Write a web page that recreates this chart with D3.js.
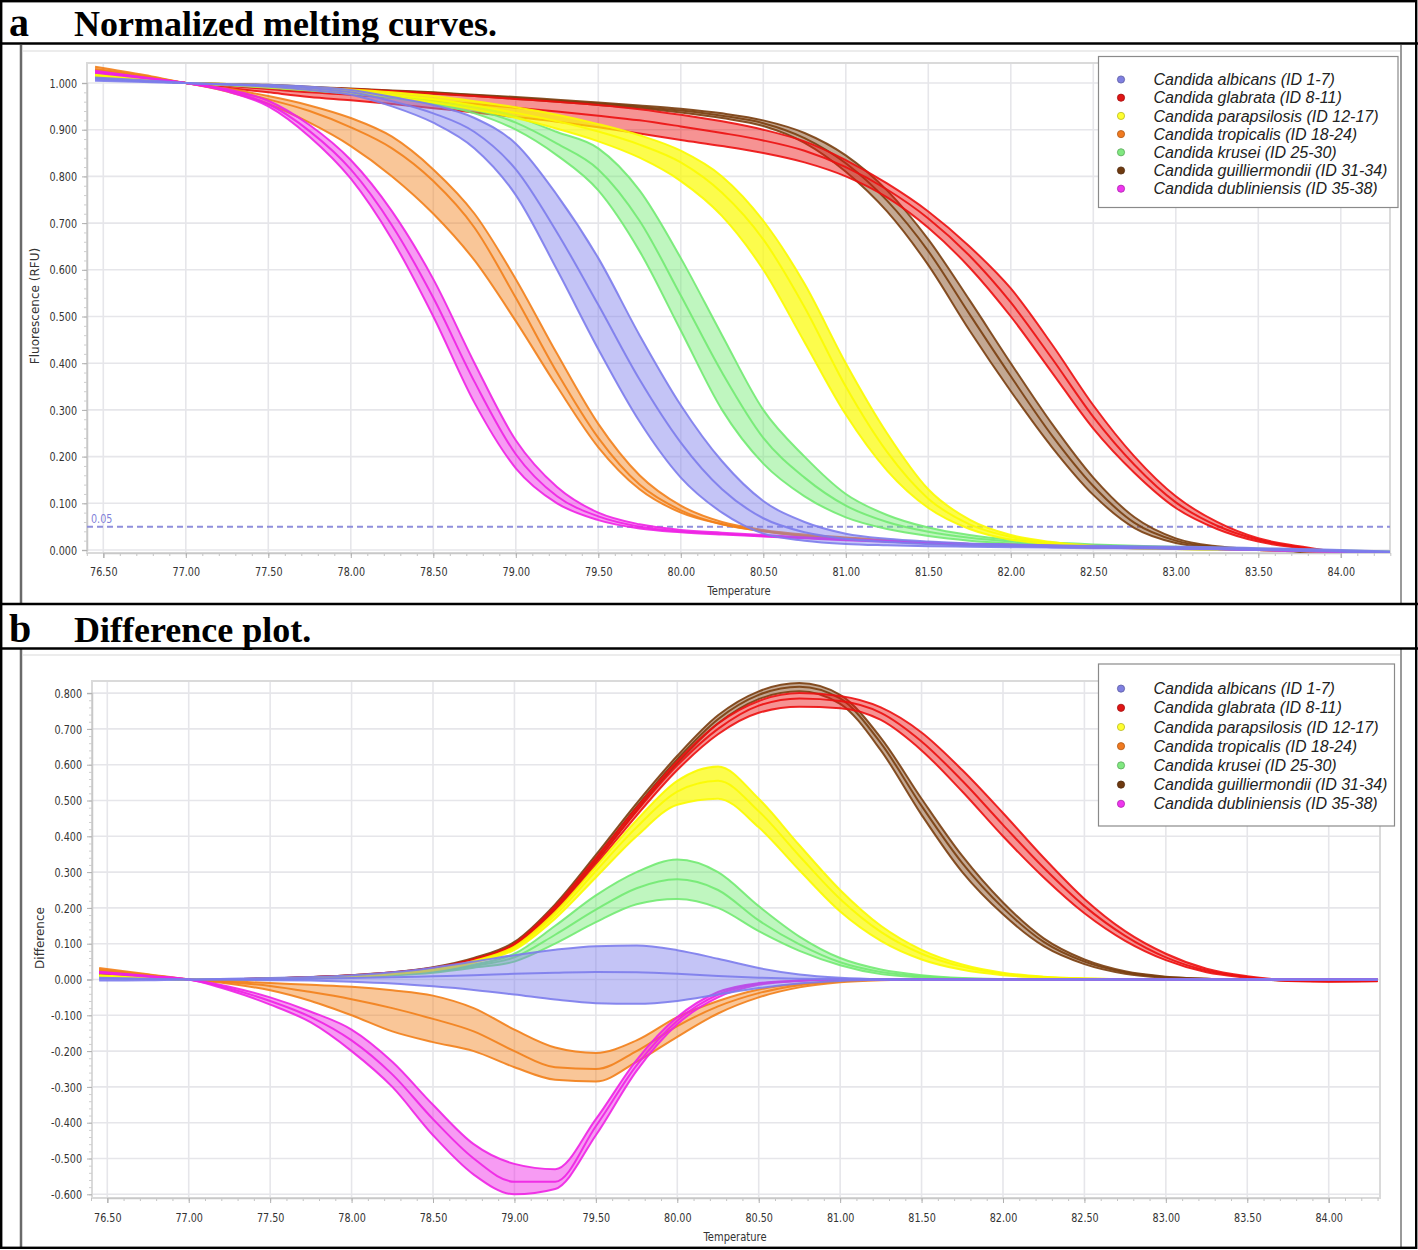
<!DOCTYPE html>
<html>
<head>
<meta charset="utf-8">
<script src="https://cdn.jsdelivr.net/npm/d3@7"></script>
<style>
    body { margin: 0; background: #fff; }
    svg { display: block; }
</style>
</head>
<body>
<svg id="chart" width="1418" height="1250"></svg>
<script>
// temperature grid the curves were read at (°C)
const temps = [76.45, 76.75, 77.0, 77.25, 77.5, 77.75, 78.0, 78.25, 78.5, 78.75, 79.0, 79.25, 79.5, 79.75, 80.0, 80.25,
    80.5, 80.75, 81.0, 81.25, 81.5, 81.75, 82.0, 82.25, 82.5, 82.75, 83.0, 83.25, 83.5, 83.75, 84.0, 84.3]

const species = ['Candida albicans (ID 1-7)', 'Candida glabrata (ID 8-11)', 'Candida parapsilosis (ID 12-17)',
    'Candida tropicalis (ID 18-24)', 'Candida krusei (ID 25-30)', 'Candida guilliermondii (ID 31-34)',
    'Candida dubliniensis (ID 35-38)']
const colors = ['#7c7cec', '#ec1010', '#fbfb00', '#f2801a', '#72ea72', '#7a3e10', '#ee22e4']
const dotColors = ['#7f7fe0', '#e01515', '#ffff30', '#f07a20', '#80e880', '#6e3a10', '#ee35ee']

const xTicks = [76.5, 77.0, 77.5, 78.0, 78.5, 79.0, 79.5, 80.0, 80.5, 81.0, 81.5, 82.0, 82.5, 83.0, 83.5, 84.0]
const meltTicks = [0.0, 0.1, 0.2, 0.3, 0.4, 0.5, 0.6, 0.7, 0.8, 0.9, 1.0]
const diffTicks = [-0.6, -0.5, -0.4, -0.3, -0.2, -0.1, 0.0, 0.1, 0.2, 0.3, 0.4, 0.5, 0.6, 0.7, 0.8]
const threshold = 0.05

// a) normalized melting curves: lower edge, middle and upper edge of each replicate bundle
const meltAlbicansLo = [1.005, 1.002, 1.000, 0.996, 0.992, 0.985, 0.975, 0.950, 0.915, 0.860, 0.760, 0.600, 0.430, 0.275, 0.155, 0.080, 0.035, 0.020, 0.013, 0.010, 0.008, 0.007, 0.006, 0.005, 0.004, 0.003, 0.002, 0.001, 0.000, -0.002, -0.004, -0.006]
const meltAlbicansMid = [1.008, 1.004, 1.000, 0.997, 0.994, 0.989, 0.980, 0.961, 0.935, 0.895, 0.815, 0.680, 0.525, 0.365, 0.230, 0.130, 0.068, 0.038, 0.024, 0.017, 0.013, 0.010, 0.009, 0.008, 0.007, 0.006, 0.005, 0.003, 0.002, 0.000, -0.002, -0.004]
const meltAlbicansHi = [1.012, 1.006, 1.000, 0.998, 0.996, 0.992, 0.985, 0.970, 0.953, 0.925, 0.870, 0.760, 0.625, 0.460, 0.310, 0.190, 0.105, 0.060, 0.035, 0.024, 0.018, 0.014, 0.012, 0.010, 0.009, 0.008, 0.007, 0.006, 0.004, 0.002, 0.000, -0.003]

const meltGlabrataLo = [1.020, 1.010, 1.000, 0.990, 0.980, 0.970, 0.963, 0.955, 0.946, 0.937, 0.927, 0.917, 0.905, 0.892, 0.878, 0.865, 0.850, 0.830, 0.800, 0.755, 0.690, 0.605, 0.500, 0.380, 0.260, 0.165, 0.090, 0.045, 0.018, 0.004, -0.006, -0.010]
const meltGlabrataMid = [1.017, 1.008, 1.000, 0.994, 0.987, 0.980, 0.975, 0.969, 0.962, 0.955, 0.947, 0.939, 0.930, 0.920, 0.907, 0.893, 0.877, 0.855, 0.820, 0.772, 0.710, 0.630, 0.530, 0.410, 0.285, 0.182, 0.102, 0.052, 0.022, 0.006, -0.005, -0.010]
const meltGlabrataHi = [1.015, 1.007, 1.000, 0.997, 0.993, 0.990, 0.987, 0.983, 0.978, 0.972, 0.966, 0.960, 0.953, 0.944, 0.932, 0.918, 0.900, 0.875, 0.835, 0.785, 0.725, 0.650, 0.560, 0.440, 0.310, 0.200, 0.115, 0.060, 0.025, 0.008, -0.005, -0.010]

const meltParapsilosisLo = [1.015, 1.007, 1.000, 0.996, 0.991, 0.985, 0.978, 0.970, 0.958, 0.943, 0.925, 0.902, 0.875, 0.840, 0.790, 0.715, 0.600, 0.445, 0.290, 0.170, 0.090, 0.045, 0.022, 0.012, 0.007, 0.004, 0.002, 0.001, 0.000, -0.002, -0.004, -0.006]
const meltParapsilosisMid = [1.016, 1.008, 1.000, 0.997, 0.993, 0.988, 0.982, 0.975, 0.965, 0.952, 0.936, 0.918, 0.896, 0.868, 0.830, 0.765, 0.665, 0.520, 0.350, 0.210, 0.110, 0.055, 0.028, 0.015, 0.008, 0.004, 0.002, 0.001, 0.000, -0.002, -0.004, -0.006]
const meltParapsilosisHi = [1.018, 1.009, 1.000, 0.998, 0.995, 0.991, 0.986, 0.980, 0.972, 0.961, 0.948, 0.932, 0.912, 0.888, 0.855, 0.800, 0.705, 0.570, 0.400, 0.250, 0.130, 0.065, 0.032, 0.017, 0.009, 0.005, 0.003, 0.001, 0.000, -0.002, -0.004, -0.006]

const meltTropicalisLo = [1.028, 1.013, 1.000, 0.982, 0.955, 0.915, 0.865, 0.800, 0.720, 0.620, 0.490, 0.350, 0.220, 0.130, 0.080, 0.055, 0.040, 0.030, 0.024, 0.018, 0.014, 0.011, 0.009, 0.007, 0.005, 0.004, 0.003, 0.002, 0.000, -0.002, -0.004, -0.006]
const meltTropicalisMid = [1.030, 1.015, 1.000, 0.985, 0.965, 0.940, 0.905, 0.860, 0.790, 0.690, 0.540, 0.380, 0.240, 0.140, 0.085, 0.055, 0.040, 0.030, 0.025, 0.020, 0.015, 0.012, 0.010, 0.008, 0.006, 0.005, 0.004, 0.003, 0.001, -0.001, -0.003, -0.005]
const meltTropicalisHi = [1.035, 1.017, 1.000, 0.988, 0.972, 0.952, 0.925, 0.885, 0.815, 0.720, 0.580, 0.420, 0.270, 0.160, 0.095, 0.060, 0.043, 0.033, 0.027, 0.021, 0.016, 0.013, 0.011, 0.009, 0.007, 0.006, 0.005, 0.003, 0.001, -0.001, -0.003, -0.005]

const meltKruseiLo = [1.010, 1.004, 1.000, 0.995, 0.990, 0.984, 0.977, 0.968, 0.955, 0.935, 0.900, 0.845, 0.770, 0.640, 0.470, 0.300, 0.185, 0.115, 0.070, 0.045, 0.030, 0.020, 0.014, 0.010, 0.007, 0.005, 0.004, 0.002, 0.000, -0.002, -0.004, -0.006]
const meltKruseiMid = [1.014, 1.006, 1.000, 0.996, 0.992, 0.986, 0.980, 0.972, 0.960, 0.943, 0.915, 0.870, 0.815, 0.705, 0.545, 0.380, 0.240, 0.155, 0.095, 0.060, 0.039, 0.026, 0.018, 0.013, 0.010, 0.007, 0.005, 0.003, 0.001, -0.001, -0.003, -0.005]
const meltKruseiHi = [1.018, 1.008, 1.000, 0.997, 0.993, 0.988, 0.982, 0.975, 0.965, 0.950, 0.928, 0.895, 0.860, 0.770, 0.625, 0.460, 0.300, 0.200, 0.120, 0.075, 0.048, 0.032, 0.022, 0.016, 0.012, 0.009, 0.007, 0.005, 0.003, 0.001, -0.001, -0.003]

const meltGuilliermondiiLo = [1.015, 1.007, 1.000, 0.997, 0.994, 0.990, 0.986, 0.982, 0.977, 0.972, 0.966, 0.960, 0.953, 0.946, 0.937, 0.925, 0.908, 0.872, 0.810, 0.725, 0.610, 0.470, 0.340, 0.220, 0.118, 0.047, 0.015, 0.004, 0.000, -0.003, -0.005, -0.008]
const meltGuilliermondiiMid = [1.016, 1.008, 1.000, 0.998, 0.995, 0.991, 0.987, 0.983, 0.979, 0.974, 0.968, 0.962, 0.956, 0.949, 0.941, 0.930, 0.914, 0.882, 0.828, 0.748, 0.640, 0.505, 0.372, 0.245, 0.137, 0.058, 0.020, 0.006, 0.001, -0.003, -0.005, -0.008]
const meltGuilliermondiiHi = [1.017, 1.008, 1.000, 0.998, 0.996, 0.992, 0.988, 0.984, 0.980, 0.975, 0.970, 0.964, 0.958, 0.952, 0.945, 0.935, 0.920, 0.893, 0.845, 0.770, 0.665, 0.535, 0.400, 0.270, 0.155, 0.070, 0.025, 0.008, 0.002, -0.003, -0.005, -0.008]

const meltDubliniensisLo = [1.022, 1.010, 1.000, 0.982, 0.950, 0.885, 0.795, 0.665, 0.500, 0.315, 0.175, 0.100, 0.064, 0.046, 0.038, 0.033, 0.029, 0.025, 0.021, 0.018, 0.015, 0.012, 0.010, 0.008, 0.006, 0.005, 0.004, 0.002, 0.000, -0.002, -0.004, -0.006]
const meltDubliniensisMid = [1.024, 1.011, 1.000, 0.984, 0.955, 0.897, 0.815, 0.695, 0.540, 0.360, 0.205, 0.115, 0.072, 0.050, 0.040, 0.035, 0.030, 0.026, 0.022, 0.019, 0.016, 0.013, 0.010, 0.008, 0.006, 0.005, 0.004, 0.002, 0.000, -0.002, -0.004, -0.006]
const meltDubliniensisHi = [1.026, 1.012, 1.000, 0.987, 0.962, 0.910, 0.835, 0.725, 0.580, 0.400, 0.235, 0.135, 0.080, 0.055, 0.043, 0.037, 0.032, 0.027, 0.023, 0.020, 0.016, 0.013, 0.011, 0.009, 0.007, 0.005, 0.004, 0.002, 0.000, -0.002, -0.004, -0.006]

// b) difference plot
const diffAlbicansLo = [-0.003, -0.002, 0.000, -0.001, -0.002, -0.003, -0.006, -0.011, -0.019, -0.029, -0.042, -0.056, -0.066, -0.068, -0.060, -0.042, -0.024, -0.011, -0.004, -0.001, 0, 0, 0, 0, 0, 0, 0, 0, 0, 0, 0, 0]
const diffAlbicansMid = [0.002, 0.001, 0.000, 0.001, 0.001, 0.002, 0.004, 0.006, 0.009, 0.012, 0.016, 0.019, 0.021, 0.020, 0.016, 0.010, 0.005, 0.002, 0.001, 0.000, 0, 0, 0, 0, 0, 0, 0, 0, 0, 0, 0, 0]
const diffAlbicansHi = [0.005, 0.002, 0.000, 0.002, 0.004, 0.007, 0.012, 0.020, 0.033, 0.050, 0.068, 0.083, 0.093, 0.095, 0.082, 0.058, 0.032, 0.014, 0.005, 0.001, 0, 0, 0, 0, 0, 0, 0, 0, 0, 0, 0, 0]

const diffGlabrataLo = [0.018, 0.008, 0.000, 0.000, 0.002, 0.005, 0.010, 0.017, 0.029, 0.050, 0.090, 0.190, 0.320, 0.458, 0.585, 0.685, 0.745, 0.762, 0.758, 0.725, 0.640, 0.525, 0.400, 0.285, 0.185, 0.108, 0.054, 0.020, 0.005, -0.004, -0.006, -0.005]
const diffGlabrataMid = [0.020, 0.009, 0.000, 0.001, 0.003, 0.006, 0.011, 0.019, 0.031, 0.054, 0.096, 0.198, 0.330, 0.470, 0.598, 0.700, 0.765, 0.785, 0.778, 0.745, 0.665, 0.555, 0.432, 0.312, 0.205, 0.122, 0.062, 0.025, 0.007, -0.003, -0.005, -0.004]
const diffGlabrataHi = [0.022, 0.010, 0.000, 0.001, 0.003, 0.007, 0.012, 0.020, 0.033, 0.057, 0.100, 0.205, 0.340, 0.480, 0.610, 0.715, 0.778, 0.800, 0.792, 0.760, 0.690, 0.585, 0.465, 0.340, 0.225, 0.135, 0.072, 0.030, 0.009, -0.002, -0.005, -0.004]

const diffParapsilosisLo = [0.010, 0.004, 0.000, 0.000, 0.002, 0.004, 0.008, 0.015, 0.025, 0.047, 0.083, 0.170, 0.285, 0.400, 0.488, 0.505, 0.425, 0.305, 0.190, 0.108, 0.056, 0.027, 0.012, 0.005, 0.002, 0.001, 0, 0, 0, 0, 0, 0]
const diffParapsilosisMid = [0.011, 0.005, 0.000, 0.001, 0.002, 0.005, 0.009, 0.016, 0.027, 0.050, 0.088, 0.180, 0.303, 0.425, 0.525, 0.555, 0.470, 0.345, 0.225, 0.133, 0.072, 0.036, 0.016, 0.007, 0.003, 0.001, 0, 0, 0, 0, 0, 0]
const diffParapsilosisHi = [0.012, 0.005, 0.000, 0.001, 0.002, 0.005, 0.010, 0.017, 0.028, 0.052, 0.092, 0.188, 0.315, 0.445, 0.555, 0.595, 0.505, 0.375, 0.250, 0.150, 0.083, 0.042, 0.019, 0.008, 0.003, 0.001, 0, 0, 0, 0, 0, 0]

const diffTropicalisLo = [0.032, 0.015, 0.000, -0.012, -0.030, -0.060, -0.100, -0.145, -0.175, -0.200, -0.245, -0.280, -0.285, -0.230, -0.160, -0.095, -0.050, -0.022, -0.008, -0.002, 0, 0, 0, 0, 0, 0, 0, 0, 0, 0, 0, 0]
const diffTropicalisMid = [0.028, 0.013, 0.000, -0.008, -0.018, -0.035, -0.055, -0.080, -0.110, -0.145, -0.200, -0.245, -0.250, -0.200, -0.130, -0.075, -0.038, -0.016, -0.005, -0.001, 0, 0, 0, 0, 0, 0, 0, 0, 0, 0, 0, 0]
const diffTropicalisHi = [0.025, 0.012, 0.000, -0.005, -0.010, -0.015, -0.020, -0.030, -0.045, -0.080, -0.140, -0.190, -0.205, -0.170, -0.105, -0.060, -0.028, -0.012, -0.004, 0.000, 0, 0, 0, 0, 0, 0, 0, 0, 0, 0, 0, 0]

const diffKruseiLo = [0.008, 0.003, 0.000, 0.000, 0.001, 0.003, 0.006, 0.011, 0.019, 0.033, 0.050, 0.100, 0.160, 0.210, 0.225, 0.200, 0.135, 0.080, 0.040, 0.015, 0.006, 0.002, 0.000, 0, 0, 0, 0, 0, 0, 0, 0, 0]
const diffKruseiMid = [0.009, 0.004, 0.000, 0.001, 0.002, 0.004, 0.007, 0.013, 0.022, 0.038, 0.062, 0.125, 0.195, 0.255, 0.280, 0.250, 0.165, 0.098, 0.048, 0.021, 0.009, 0.003, 0.001, 0, 0, 0, 0, 0, 0, 0, 0, 0]
const diffKruseiHi = [0.010, 0.004, 0.000, 0.001, 0.002, 0.004, 0.008, 0.014, 0.024, 0.042, 0.072, 0.150, 0.235, 0.300, 0.335, 0.300, 0.205, 0.120, 0.060, 0.028, 0.012, 0.004, 0.001, 0, 0, 0, 0, 0, 0, 0, 0, 0]

const diffGuilliermondiiLo = [0.012, 0.005, 0.000, 0.000, 0.002, 0.005, 0.010, 0.018, 0.030, 0.054, 0.096, 0.196, 0.328, 0.472, 0.604, 0.715, 0.783, 0.805, 0.770, 0.640, 0.460, 0.300, 0.182, 0.093, 0.043, 0.016, 0.005, 0.001, 0.000, -0.002, -0.003, -0.003]
const diffGuilliermondiiMid = [0.013, 0.006, 0.000, 0.001, 0.003, 0.006, 0.011, 0.019, 0.032, 0.057, 0.100, 0.203, 0.338, 0.482, 0.615, 0.727, 0.795, 0.818, 0.785, 0.660, 0.485, 0.325, 0.200, 0.105, 0.050, 0.020, 0.007, 0.002, 0.000, -0.002, -0.003, -0.003]
const diffGuilliermondiiHi = [0.015, 0.007, 0.000, 0.001, 0.003, 0.007, 0.012, 0.020, 0.034, 0.060, 0.105, 0.210, 0.348, 0.492, 0.625, 0.738, 0.805, 0.828, 0.795, 0.675, 0.505, 0.345, 0.215, 0.115, 0.056, 0.023, 0.008, 0.002, 0.000, -0.002, -0.003, -0.003]

const diffDubliniensisLo = [0.022, 0.010, 0.000, -0.030, -0.070, -0.120, -0.200, -0.300, -0.435, -0.545, -0.600, -0.585, -0.435, -0.255, -0.125, -0.050, -0.015, -0.004, 0.000, 0, 0, 0, 0, 0, 0, 0, 0, 0, 0, 0, 0, 0]
const diffDubliniensisMid = [0.020, 0.009, 0.000, -0.025, -0.060, -0.105, -0.170, -0.265, -0.390, -0.500, -0.565, -0.565, -0.410, -0.240, -0.115, -0.042, -0.012, -0.003, 0.000, 0, 0, 0, 0, 0, 0, 0, 0, 0, 0, 0, 0, 0]
const diffDubliniensisHi = [0.018, 0.008, 0.000, -0.020, -0.050, -0.090, -0.140, -0.230, -0.350, -0.460, -0.515, -0.530, -0.390, -0.225, -0.105, -0.035, -0.010, -0.003, 0.000, 0, 0, 0, 0, 0, 0, 0, 0, 0, 0, 0, 0, 0]

// same order as `species`
const meltSeries = [
    [meltAlbicansLo, meltAlbicansMid, meltAlbicansHi],
    [meltGlabrataLo, meltGlabrataMid, meltGlabrataHi],
    [meltParapsilosisLo, meltParapsilosisMid, meltParapsilosisHi],
    [meltTropicalisLo, meltTropicalisMid, meltTropicalisHi],
    [meltKruseiLo, meltKruseiMid, meltKruseiHi],
    [meltGuilliermondiiLo, meltGuilliermondiiMid, meltGuilliermondiiHi],
    [meltDubliniensisLo, meltDubliniensisMid, meltDubliniensisHi],
]
const diffSeries = [
    [diffAlbicansLo, diffAlbicansMid, diffAlbicansHi],
    [diffGlabrataLo, diffGlabrataMid, diffGlabrataHi],
    [diffParapsilosisLo, diffParapsilosisMid, diffParapsilosisHi],
    [diffTropicalisLo, diffTropicalisMid, diffTropicalisHi],
    [diffKruseiLo, diffKruseiMid, diffKruseiHi],
    [diffGuilliermondiiLo, diffGuilliermondiiMid, diffGuilliermondiiHi],
    [diffDubliniensisLo, diffDubliniensisMid, diffDubliniensisHi],
]

// which bundle sits on top of which (last = top)
const drawOrder = [5, 1, 4, 2, 3, 6, 0]

meltSeries.concat(diffSeries).forEach((s, i) => s.forEach((arr, j) => {
    if (arr.length !== temps.length) throw new Error('series ' + i + '/' + j + ' has ' + arr.length + ' points')
}))

const svg = d3.select('#chart')
const labelFont = 'DejaVu Sans'
const squeeze = 0.74   // the screenshot text is horizontally condensed

svg.append('rect').attr('width', 1418).attr('height', 1250).attr('fill', '#fff')

function drawPanel(p) {
    const x = d3.scaleLinear().domain([76.5, 84.0]).range(p.xRange)
    const y = d3.scaleLinear().domain(p.yDomain).range(p.yRange)
    const { left, right, top, bottom } = p.plot
    const g = svg.append('g')

    // screenshot edges
    g.append('line')
        .attr('x1', 21).attr('x2', 21).attr('y1', p.frame[0]).attr('y2', p.frame[1])
        .attr('stroke', '#6a6a6a').attr('stroke-width', 2.5)
    g.append('line')
        .attr('x1', 1401).attr('x2', 1401).attr('y1', p.frame[0]).attr('y2', p.frame[1])
        .attr('stroke', '#9a9a9a').attr('stroke-width', 2)
    g.append('line')
        .attr('x1', 23).attr('x2', 1400).attr('y1', p.frame[0] + 6).attr('y2', p.frame[0] + 6)
        .attr('stroke', '#ececec').attr('stroke-width', 2)

    // grid
    g.append('g').selectAll('line').data(xTicks).enter().append('line')
        .attr('x1', d => x(d)).attr('x2', d => x(d))
        .attr('y1', top).attr('y2', bottom)
        .attr('stroke', '#e6e6ea').attr('stroke-width', 1.6)
    g.append('g').selectAll('line').data(p.yTicks).enter().append('line')
        .attr('x1', left).attr('x2', right)
        .attr('y1', d => y(d)).attr('y2', d => y(d))
        .attr('stroke', '#e6e6ea').attr('stroke-width', 1.6)
    g.append('rect')
        .attr('x', left).attr('y', top)
        .attr('width', right - left).attr('height', bottom - top)
        .attr('fill', 'none').attr('stroke', '#dadada').attr('stroke-width', 2)

    // axes
    const xMinor = d3.range(764, 844).map(v => v / 10)
    const yMinor = d3.range(Math.round(p.yTicks[0] * 50), Math.round(p.yTicks[p.yTicks.length - 1] * 50) + 1).map(v => v / 50)

    g.append('g')
        .attr('transform', 'translate(0,' + bottom + ')')
        .call(d3.axisBottom(x).tickValues(xMinor).tickSize(3).tickFormat(''))
        .call(a => a.select('.domain').remove())
        .selectAll('line').attr('stroke', '#c4c4c4')
    g.append('g')
        .attr('transform', 'translate(' + left + ',0)')
        .call(d3.axisLeft(y).tickValues(yMinor).tickSize(3).tickFormat(''))
        .call(a => a.select('.domain').remove())
        .selectAll('line').attr('stroke', '#cfcfcf')

    const xAxis = g.append('g')
        .attr('transform', 'translate(0,' + bottom + ')')
        .call(d3.axisBottom(x).tickValues(xTicks).tickSize(5).tickPadding(p.xPad).tickFormat(d => d.toFixed(2)))
    xAxis.select('.domain').attr('stroke', '#c8c8c8').attr('stroke-width', 1.5)
    xAxis.selectAll('line').attr('stroke', '#b0b0b0')
    xAxis.selectAll('text')
        .attr('font-family', labelFont).attr('font-size', 13).attr('fill', '#333')
        .attr('transform', 'scale(' + squeeze + ',1)')

    const yAxis = g.append('g')
        .attr('transform', 'translate(' + left + ',0)')
        .call(d3.axisLeft(y).tickValues(p.yTicks).tickSize(5).tickFormat(d => d.toFixed(3)))
    yAxis.select('.domain').attr('stroke', '#c8c8c8').attr('stroke-width', 1.5)
    yAxis.selectAll('line').attr('stroke', '#b0b0b0')
    yAxis.selectAll('text')
        .attr('font-family', labelFont).attr('font-size', 13).attr('fill', '#333')
        .attr('x', -p.yPad / squeeze)
        .attr('transform', 'scale(' + squeeze + ',1)')

    g.append('text')
        .attr('transform', 'translate(' + p.xTitle[0] + ',' + p.xTitle[1] + ') scale(0.83,1)')
        .attr('text-anchor', 'middle')
        .attr('font-family', labelFont).attr('font-size', 12).attr('fill', '#333')
        .text('Temperature')
    g.append('text')
        .attr('transform', 'translate(' + p.yTitle[0] + ',' + p.yTitle[1] + ') rotate(-90)')
        .attr('text-anchor', 'middle')
        .attr('font-family', labelFont).attr('font-size', 12).attr('fill', '#333')
        .text(p.yLabel)

    // curves
    g.append('clipPath').attr('id', p.id + '-clip').append('rect')
        .attr('x', left).attr('y', top).attr('width', right - left).attr('height', bottom - top)
    const plot = g.append('g').attr('clip-path', 'url(#' + p.id + '-clip)')

    if (p.threshold !== undefined) {
        plot.append('line')
            .attr('x1', left).attr('x2', right)
            .attr('y1', y(p.threshold)).attr('y2', y(p.threshold))
            .attr('stroke', '#8f8fdc').attr('stroke-width', 2).attr('stroke-dasharray', '6,4')
        g.append('text')
            .attr('transform', 'translate(' + (left + 4) + ',' + (y(p.threshold) - 4) + ') scale(' + squeeze + ',1)')
            .attr('font-family', labelFont).attr('font-size', 13).attr('fill', '#7f7fd8')
            .text(threshold.toFixed(2))
    }

    const line = d3.line()
        .x((d, i) => x(temps[i]))
        .y(d => y(d))
        .curve(d3.curveMonotoneX)
    const band = d3.area()
        .x((d, i) => x(temps[i]))
        .y0(d => y(d[0]))
        .y1(d => y(d[1]))
        .curve(d3.curveMonotoneX)

    drawOrder.forEach(k => {
        const [lo, mid, hi] = p.series[k]
        const grp = plot.append('g').attr('class', 'species')
        grp.append('path')
            .datum(d3.zip(lo, hi))
            .attr('d', band)
            .attr('fill', colors[k])
            .attr('fill-opacity', k === 2 ? 0.7 : 0.45)
        grp.selectAll('path.rep')
            .data([lo, mid, hi])
            .enter().append('path')
            .attr('class', 'rep')
            .attr('d', line)
            .attr('fill', 'none')
            .attr('stroke', colors[k])
            .attr('stroke-width', 2)
            .attr('stroke-opacity', 0.9)
    })

    // legend
    const lg = g.append('g')
    lg.append('rect')
        .attr('x', p.legend.x).attr('y', p.legend.y)
        .attr('width', p.legend.w).attr('height', p.legend.h)
        .attr('fill', '#fff').attr('stroke', '#8a8a8a').attr('stroke-width', 1.2)
    const rows = lg.selectAll('g.row').data(species).enter().append('g')
        .attr('class', 'row')
        .attr('transform', (d, i) => 'translate(0,' + (p.legend.row0 + i * p.legend.step) + ')')
    rows.append('circle')
        .attr('cx', p.legend.x + 22.5).attr('cy', 0).attr('r', 3.6)
        .attr('fill', (d, i) => dotColors[i])
        .attr('stroke', (d, i) => d3.color(dotColors[i]).darker(0.9))
        .attr('stroke-width', 0.8)
    rows.append('text')
        .attr('x', p.legend.x + 55).attr('y', 5.6)
        .attr('font-family', 'Liberation Sans, Arial, sans-serif')
        .attr('font-style', 'italic').attr('font-size', 16).attr('fill', '#222')
        .text(d => d)
}

drawPanel({
    id: 'melt',
    series: meltSeries,
    xRange: [103.3, 1340.8],
    yDomain: [0, 1],
    yRange: [550, 83],
    yTicks: meltTicks,
    plot: { left: 87, right: 1390, top: 63, bottom: 553 },
    frame: [45, 603],
    xPad: 9,
    yPad: 10,
    xTitle: [739, 595],
    yTitle: [39, 306],
    yLabel: 'Fluorescence (RFU)',
    threshold: threshold,
    legend: { x: 1098.5, y: 56.5, w: 299.5, h: 151, row0: 79.5, step: 18.2 },
})

drawPanel({
    id: 'diff',
    series: diffSeries,
    xRange: [107.3, 1328.7],
    yDomain: [0, 0.8],
    yRange: [979.5, 693.1],
    yTicks: diffTicks,
    plot: { left: 92, right: 1380, top: 681, bottom: 1198 },
    frame: [649, 1247],
    xPad: 10,
    yPad: 10,
    xTitle: [735, 1241],
    yTitle: [44, 938],
    yLabel: 'Difference',
    legend: { x: 1098.5, y: 664, w: 296, h: 162, row0: 688.6, step: 19.2 },
})

// figure frame and panel headers
const frame = svg.append('g')
frame.append('rect')
    .attr('x', 1.2).attr('y', 1.2).attr('width', 1415).attr('height', 1246.6)
    .attr('fill', 'none').attr('stroke', '#000').attr('stroke-width', 2.4)
frame.selectAll('line.sep').data([43.5, 604, 648.5]).enter().append('line')
    .attr('class', 'sep')
    .attr('x1', 0).attr('x2', 1418)
    .attr('y1', d => d).attr('y2', d => d)
    .attr('stroke', '#000').attr('stroke-width', 2.4)

const headers = [
    { letter: 'a', title: 'Normalized melting curves.', y: 36 },
    { letter: 'b', title: 'Difference plot.', y: 641.5 },
]
headers.forEach(h => {
    frame.append('text')
        .attr('x', 9).attr('y', h.y)
        .attr('font-family', 'Liberation Serif, Times New Roman, serif')
        .attr('font-weight', 'bold').attr('font-size', 40)
        .text(h.letter)
    frame.append('text')
        .attr('x', 74).attr('y', h.y)
        .attr('font-family', 'Liberation Serif, Times New Roman, serif')
        .attr('font-weight', 'bold').attr('font-size', 36)
        .text(h.title)
})
</script>
</body>
</html>
